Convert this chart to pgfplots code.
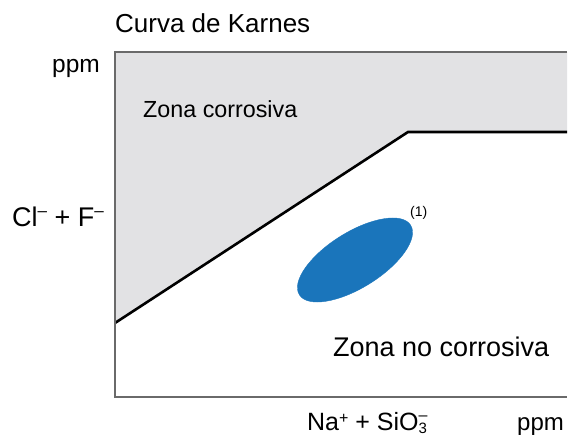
\documentclass[border=0pt]{standalone}
\usepackage{pgfplots}
\pgfplotsset{compat=1.18}
\usepackage{fontspec}
\setmainfont{Liberation Sans}
\definecolor{zonegray}{HTML}{E2E2E4}
\definecolor{ellblue}{HTML}{1A75BB}
\definecolor{boxgray}{HTML}{6A6A6A}
\newcommand{\fs}[1]{\fontsize{#1}{#1}\selectfont}
\begin{document}
\begin{tikzpicture}
\begin{axis}[
  scale only axis,
  width=452pt, height=345pt,
  xmin=0, xmax=452, ymin=0, ymax=345,
  axis lines=none,
  ticks=none,
  clip=false,
]
% corrosive zone (above the Karnes curve)
\addplot[fill=zonegray, draw=none] coordinates {(0,74) (293,265) (452,265) (452,345) (0,345)} -- cycle;
% Karnes curve
\addplot[black, line width=2.6pt, line join=miter] coordinates {(0,74) (293,265) (452,265)};
% measured zone (1)
\addplot[only marks, mark=*, mark size=27.8pt, color=ellblue,
  mark options={fill=ellblue, draw=none, rotate=32, xscale=2.36}] coordinates {(240,137)};
\draw[boxgray, line width=1.6pt] (rel axis cs:1,1) -- (rel axis cs:0,1) -- (rel axis cs:0,0) -- (rel axis cs:1,0);
\node[anchor=base west, inner sep=0pt] at (axis cs:0,364) {\fs{26}Curva de Karnes};
\node[anchor=base east, inner sep=0pt] at (axis cs:-15,324) {\fs{24.5}ppm};
\node[anchor=base west, inner sep=0pt] at (axis cs:28,279) {\fs{23.3}Zona corrosiva};
\node[anchor=base west, inner sep=0pt] at (axis cs:-103,170) {\fs{27}Cl\raisebox{0.75ex}{\fs{17}–} + F\raisebox{0.75ex}{\fs{17}–}};
\node[anchor=base west, inner sep=0pt] at (axis cs:295,180) {\fs{14}(1)};
\node[anchor=base west, inner sep=0pt] at (axis cs:218,40) {\fs{27}Zona no corrosiva};
\node[anchor=base west, inner sep=0pt] at (axis cs:192,-34) {\fs{25}Na\raisebox{0.6ex}{\fs{16}+} + SiO\rlap{\raisebox{-0.2ex}{\fs{15}3}}\raisebox{0.8ex}{\fs{16}–}};
\node[anchor=base west, inner sep=0pt] at (axis cs:402,-34) {\fs{24}ppm};
\coordinate (bl) at (axis cs:-115,-39);
\coordinate (tr) at (axis cs:453,397);
\end{axis}
\pgfresetboundingbox
\path[use as bounding box] (bl) rectangle (tr);
\end{tikzpicture}
\end{document}
